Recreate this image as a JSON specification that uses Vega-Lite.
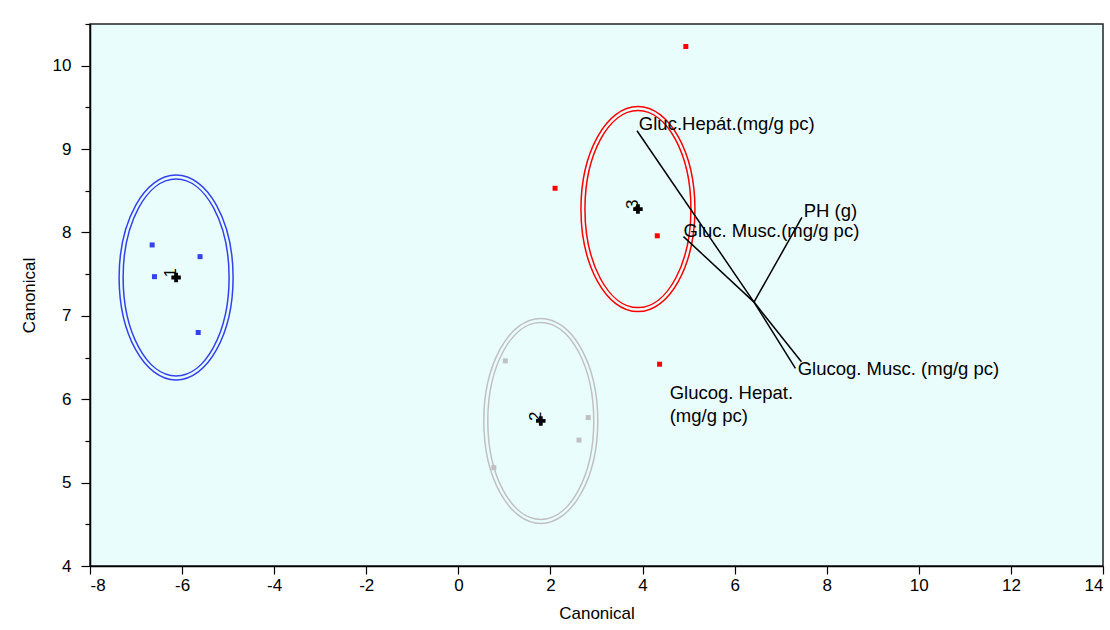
{
  "$schema": "https://vega.github.io/schema/vega-lite/v6.json",
  "width": 1013,
  "height": 542,
  "autosize": {"type": "none"},
  "padding": {"left": 90, "top": 24, "right": 7, "bottom": 64},
  "background": "white",
  "config": {
    "view": {"fill": "#e9fdfd", "stroke": "#222222", "strokeWidth": 1.5},
    "font": "Liberation Sans",
    "axis": {
      "domainColor": "black", "tickColor": "black", "labelColor": "black", "titleColor": "black",
      "labelFont": "Liberation Sans", "titleFont": "Liberation Sans", "titleFontWeight": "normal",
      "labelFontSize": 17, "titleFontSize": 17, "grid": false, "domainWidth": 1.5, "tickWidth": 1.2
    }
  },
  "datasets": {
    "groups": [
      {"group": "1", "x": -6.13, "y": 7.46},
      {"group": "2", "x": 1.79, "y": 5.74},
      {"group": "3", "x": 3.9, "y": 8.28}
    ],
    "obs": [
      {"group": "1", "x": -6.65, "y": 7.85},
      {"group": "1", "x": -5.61, "y": 7.71},
      {"group": "1", "x": -6.6, "y": 7.47},
      {"group": "1", "x": -5.65, "y": 6.8},
      {"group": "2", "x": 1.02, "y": 6.46},
      {"group": "2", "x": 2.82, "y": 5.78},
      {"group": "2", "x": 2.62, "y": 5.51},
      {"group": "2", "x": 0.77, "y": 5.18},
      {"group": "3", "x": 4.94, "y": 10.23},
      {"group": "3", "x": 2.1, "y": 8.53},
      {"group": "3", "x": 4.32, "y": 7.96},
      {"group": "3", "x": 4.37, "y": 6.42}
    ],
    "rays": [
      {"var": "Gluc.Hepat", "pt": 0, "x": 6.42, "y": 7.165},
      {"var": "Gluc.Hepat", "pt": 1, "x": 3.88, "y": 9.22},
      {"var": "Gluc.Musc", "pt": 0, "x": 6.42, "y": 7.165},
      {"var": "Gluc.Musc", "pt": 1, "x": 4.89, "y": 7.95},
      {"var": "PH", "pt": 0, "x": 6.42, "y": 7.165},
      {"var": "PH", "pt": 1, "x": 7.46, "y": 8.18},
      {"var": "Glucog.Musc", "pt": 0, "x": 6.42, "y": 7.165},
      {"var": "Glucog.Musc", "pt": 1, "x": 7.32, "y": 6.37},
      {"var": "Glucog.Hepat", "pt": 0, "x": 6.42, "y": 7.165},
      {"var": "Glucog.Hepat", "pt": 1, "x": 7.45, "y": 6.45}
    ],
    "raylabels": [
      {"label": "Gluc.Hepát.(mg/g pc)", "x": 3.92, "y": 9.23},
      {"label": "PH (g)", "x": 7.5, "y": 8.18},
      {"label": "Gluc. Musc.(mg/g pc)", "x": 4.89, "y": 7.95},
      {"label": "Glucog. Musc. (mg/g pc)", "x": 7.37, "y": 6.29},
      {"label": "Glucog. Hepat.|(mg/g pc)", "x": 4.59, "y": 6.0}
    ]
  },
  "resolve": {"axis": {"x": "independent", "y": "independent"}},
  "layer": [
    {
      "data": {"name": "groups"},
      "mark": {
        "type": "point",
        "shape": "M -0.556,0 A 0.556,1 0 1,0 0.556,0 A 0.556,1 0 1,0 -0.556,0 Z M -0.517,0 A 0.517,0.961 0 1,0 0.517,0 A 0.517,0.961 0 1,0 -0.517,0 Z",
        "size": 42025, "filled": false, "strokeWidth": 1.5, "opacity": 1
      },
      "encoding": {
        "x": {"field": "x", "type": "quantitative",
          "scale": {"domain": [-8, 14], "nice": false, "zero": false},
          "axis": {"orient": "bottom", "values": [-8, -6, -4, -2, 0, 2, 4, 6, 8, 10, 12, 14], "labelExpr": "'' + datum.value", "tickSize": 8, "labelPadding": 3, "title": "Canonical", "titlePadding": 12}},
        "y": {"field": "y", "type": "quantitative",
          "scale": {"domain": [4, 10.5], "nice": false, "zero": false},
          "axis": {"orient": "left", "values": [4, 5, 6, 7, 8, 9, 10], "tickSize": 9, "labelPadding": 10, "title": "Canonical", "titlePadding": 14}},
        "color": {"field": "group", "type": "nominal",
          "scale": {"domain": ["1", "2", "3"], "range": ["#3342ee", "#c0c0c0", "#ff0000"]}, "legend": null}
      }
    },
    {
      "data": {"name": "obs"},
      "mark": {"type": "point", "shape": "square", "filled": true, "size": 25, "opacity": 1},
      "encoding": {
        "x": {"field": "x", "type": "quantitative", "axis": null},
        "y": {"field": "y", "type": "quantitative", "axis": null},
        "color": {"field": "group", "type": "nominal", "legend": null}
      }
    },
    {
      "data": {"name": "groups"},
      "mark": {"type": "point", "shape": "cross", "filled": true, "size": 90, "color": "black", "opacity": 1},
      "encoding": {
        "x": {"field": "x", "type": "quantitative", "axis": null},
        "y": {"field": "y", "type": "quantitative",
          "axis": {"orient": "left", "values": [4.5, 5.5, 6.5, 7.5, 8.5, 9.5, 10.5], "tickSize": 5, "labels": false, "domain": false, "title": null}}
      }
    },
    {
      "data": {"name": "groups"},
      "mark": {"type": "text", "angle": 270, "align": "left", "baseline": "alphabetic", "fontSize": 17, "color": "black", "font": "Liberation Sans"},
      "encoding": {
        "x": {"field": "x", "type": "quantitative", "axis": null},
        "y": {"field": "y", "type": "quantitative", "axis": null},
        "text": {"field": "group"}
      }
    },
    {
      "data": {"name": "rays"},
      "mark": {"type": "line", "color": "black", "strokeWidth": 1.5},
      "encoding": {
        "x": {"field": "x", "type": "quantitative", "axis": null},
        "y": {"field": "y", "type": "quantitative", "axis": null},
        "detail": {"field": "var"},
        "order": {"field": "pt", "type": "quantitative"}
      }
    },
    {
      "data": {"name": "raylabels"},
      "mark": {"type": "text", "align": "left", "baseline": "alphabetic", "fontSize": 18.5, "lineBreak": "|", "lineHeight": 23, "color": "black", "font": "Liberation Sans"},
      "encoding": {
        "x": {"field": "x", "type": "quantitative", "axis": null},
        "y": {"field": "y", "type": "quantitative", "axis": null},
        "text": {"field": "label"}
      }
    }
  ]
}
